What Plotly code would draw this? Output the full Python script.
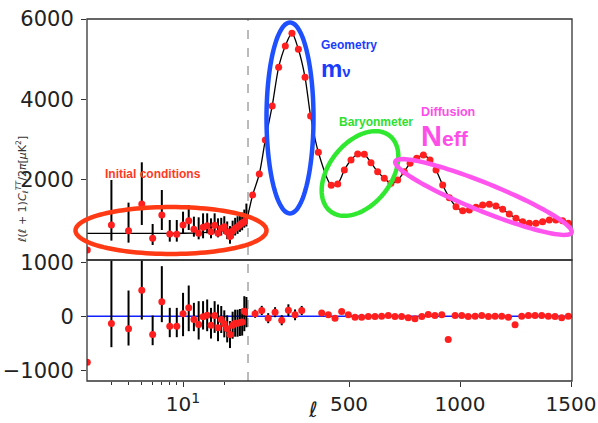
import numpy as np
import plotly.graph_objects as go

# ---------------------------------------------------------------- data
# Low-multipole band powers (one per multipole), D_ell in muK^2
ell_low = list(range(2, 30))
dl_low = [249, 872, 730, 1394, 540, 1120, 647, 639, 872, 979, 764, 664, 814, 855,
          706, 863, 664, 790, 830, 700, 585, 720, 790, 830, 880, 920, 955, 985]
dl_low_up = [0, 1120, 698, 1038, 356, 623, 349, 357, 331, 391, 315, 398, 348, 307,
             331, 299, 373, 260, 260, 260, 260, 260, 260, 260, 260, 260, 300, 420]
dl_low_dn = [0, 390, 298, 522, 166, 373, 190, 182, 208, 232, 183, 149, 274, 191,
             166, 199, 100, 180, 180, 180, 180, 180, 180, 180, 180, 180, 150, 150]

# Binned high-multipole band powers
ell_hi = [66, 96, 123, 154, 183, 213, 243, 272, 302, 327,
          362, 420, 449, 479, 509, 539, 569, 599, 629, 659,
          689, 719, 749, 775, 805, 835, 865, 892, 922, 952,
          982, 1012, 1042, 1072, 1102, 1132, 1162, 1192, 1222, 1252,
          1282, 1312, 1342, 1372, 1402, 1432, 1462, 1488]
dl_hi = [1619, 2141, 2988, 3835, 4798, 5329, 5645, 5246, 4549, 3586,
         2681, 1859, 1892, 2241, 2490, 2639, 2631, 2423, 2199, 2034,
         1909, 1992, 2199, 2407, 2531, 2614, 2490, 2241, 1867, 1551,
         1328, 1228, 1245, 1311, 1370, 1387, 1345, 1262, 1145, 1037,
         955, 913, 913, 955, 996, 996, 979, 913]

# Best-fit model curve
model_lo_ell = [2, 4, 6, 8, 10, 12, 14, 16, 18, 20, 22, 24, 26, 28, 29.8]
model_lo = [664, 664, 664, 664, 666, 670, 680, 695, 715, 740, 775, 825, 890, 985, 1120]
model_hi_ell = [45] + ell_hi
model_hi = [1120] + dl_hi

# Residuals (data - model), muK^2
res_low = [-852, -136, -235, 481, -340, 265, -185, -185, 43, 154, -62, -154, -12, 19,
           -167, 12, -216, -62, -142, -235, -340, -167, -130, -130, -117, -110, 93, 75]
res_low_up = [0, 1250, 710, 700, 352, 661, 339, 339, 389, 414, 309, 432, 290, 290,
              321, 266, 432, 250, 250, 250, 250, 250, 250, 250, 250, 250, 277, 280]
res_low_dn = [0, 438, 308, 543, 197, 376, 204, 204, 413, 432, 216, 278, 235, 297,
              247, 321, 247, 250, 250, 250, 250, 250, 250, 250, 250, 250, 371, 280]

ell_res_hi = [77, 107, 136, 167, 197, 227, 257, 287, 377, 407, 437, 467, 497,
              527, 557, 587, 617, 647, 677, 707, 737, 767, 797, 828, 857, 887,
              918, 947, 978, 1008, 1037, 1068, 1098, 1128, 1158, 1188, 1218, 1248,
              1278, 1308, 1338, 1368, 1398, 1428, 1458, 1488]
res_hi = [44, 106, -37, 74, -75, 110, 25, 105, 60, 28, -37, 87, 25,
          -19, -19, -6, -6, 0, 12, -6, -6, -31, -49, -6, 31, 12,
          25, -432, 12, 12, -6, 0, 12, -6, 0, 0, -19, -160,
          0, 12, 12, 12, 0, -6, -31, 0]
res_hi_err = [75, 85, 93, 93, 93, 110, 100, 85] + [0] * 38

top_ticks = [2000, 4000, 6000]
bottom_ticks = [-1000, 0, 1000]
lin_ticks = [500, 1000, 1500]

# ---------------------------------------------------------------- geometry
W, H = 598, 423
M_L, M_R, M_T, M_B = 87, 26, 19, 42
PW, PH = W - M_L - M_R, H - M_T - M_B


def fx(px):
    return (px - M_L) / PW


def fy(py):
    return (H - M_B - py) / PH


SPLIT_X = fx(248)   # log | linear boundary in ell
SPLIT_Y = fy(260)   # spectrum | residual boundary

LOG_RANGE = [0.299, 1.474]
LIN_RANGE = [45, 1504.5]


def ellipse_path(cx, cy, a, b, angle_deg, n=120):
    t = np.linspace(0, 2 * np.pi, n, endpoint=False)
    th = np.radians(angle_deg)
    x = cx + a * np.cos(t) * np.cos(th) - b * np.sin(t) * np.sin(th)
    y = cy - (a * np.cos(t) * np.sin(th) + b * np.sin(t) * np.cos(th))
    pts = [f"{fx(xi):.5f},{fy(yi):.5f}" for xi, yi in zip(x, y)]
    return "M" + " L".join(pts) + " Z"


RED = "#ff1f1f"
TICK_FONT = dict(family="DejaVu Sans", size=21, color="#222222")

fig = go.Figure()

line_style = dict(color="black", width=1.3, shape="spline", smoothing=0.8)
fig.add_trace(go.Scatter(x=model_lo_ell, y=model_lo, mode="lines", line=line_style,
                         xaxis="x", yaxis="y", hoverinfo="skip"))
fig.add_trace(go.Scatter(x=model_hi_ell, y=model_hi, mode="lines", line=line_style,
                         xaxis="x2", yaxis="y", hoverinfo="skip"))

marker = dict(color=RED, size=7)
fig.add_trace(go.Scatter(
    x=ell_low, y=dl_low, mode="markers", marker=marker, xaxis="x", yaxis="y",
    error_y=dict(type="data", symmetric=False, array=dl_low_up, arrayminus=dl_low_dn,
                 color="black", thickness=2, width=0)))
fig.add_trace(go.Scatter(x=ell_hi, y=dl_hi, mode="markers", marker=marker,
                         xaxis="x2", yaxis="y"))
fig.add_trace(go.Scatter(
    x=ell_low, y=res_low, mode="markers", marker=marker, xaxis="x3", yaxis="y2",
    error_y=dict(type="data", symmetric=False, array=res_low_up, arrayminus=res_low_dn,
                 color="black", thickness=2, width=0)))
fig.add_trace(go.Scatter(
    x=ell_res_hi, y=res_hi, mode="markers", marker=marker, xaxis="x4", yaxis="y2",
    error_y=dict(type="data", array=res_hi_err, color="black", thickness=2, width=0)))

base_axis = dict(showgrid=False, zeroline=False, showline=False, automargin=False,
                 tickfont=TICK_FONT, tickcolor="#333333", ticklen=5, tickwidth=1.2)

shapes = [
    dict(type="line", xref="paper", yref="y2", x0=0, x1=1, y0=0, y1=0,
         line=dict(color="#1020ff", width=1.5), layer="below"),
    dict(type="line", xref="paper", yref="paper", x0=SPLIT_X, x1=SPLIT_X, y0=0, y1=1,
         line=dict(color="#777777", width=1, dash="dash"), layer="below"),
    dict(type="rect", xref="paper", yref="paper", x0=0, x1=1, y0=SPLIT_Y, y1=1,
         line=dict(color="#333333", width=1.3)),
    dict(type="rect", xref="paper", yref="paper", x0=0, x1=1, y0=0, y1=SPLIT_Y,
         line=dict(color="#333333", width=1.3)),
]

# highlighted regions of the spectrum
for cx, cy, a, b, ang, col in [
    (171, 230.5, 95.5, 23.5, 0, "#ff3a14"),
    (290, 118, 23.5, 95.5, 0, "#1e50ff"),
    (360, 173.5, 48, 31, 52, "#30e830"),
    (483.5, 197, 95, 14, -22, "#ff55ee"),
]:
    shapes.append(dict(type="path", xref="paper", yref="paper",
                       path=ellipse_path(cx, cy, a, b, ang),
                       line=dict(color=col, width=4.5), layer="above"))

LABEL_FONT = "Liberation Sans"
annotations = [
    dict(x=fx(153), y=fy(174), text="<b>Initial conditions</b>",
         font=dict(family=LABEL_FONT, size=12, color="#ff3a1e")),
    dict(x=fx(348.5), y=fy(45), text="<b>Geometry</b>",
         font=dict(family=LABEL_FONT, size=12, color="#1a3cff")),
    dict(x=fx(319), y=fy(68), xanchor="left",
         text="<b>m<span style='font-size:15px'>ν</span></b>",
         font=dict(family=LABEL_FONT, size=24, color="#1a3cff")),
    dict(x=fx(376), y=fy(121.7), text="<b>Baryonmeter</b>",
         font=dict(family=LABEL_FONT, size=12, color="#2ee02e")),
    dict(x=fx(448), y=fy(111.7), text="<b>Diffusion</b>",
         font=dict(family=LABEL_FONT, size=12.5, color="#ff4de8")),
    dict(x=fx(419), y=fy(136), xanchor="left",
         text="<b>N<span style='font-size:21px'>eff</span></b>",
         font=dict(family=LABEL_FONT, size=29, color="#ff4de8")),
    dict(x=fx(313), y=fy(410), text="<i>ℓ</i>",
         font=dict(family="DejaVu Sans", size=21, color="#222222")),
    dict(x=fx(22), y=fy(190), textangle=-90,
         text="<i>ℓ</i>(<i>ℓ</i> + 1)<i>C</i><sub><i>ℓ</i></sub><sup><i>TT</i></sup>/2<i>π</i>[<i>μ</i>K<sup>2</sup>]",
         font=dict(family="DejaVu Sans", size=11, color="#333333")),
]
for ann in annotations:
    ann.setdefault("xanchor", "center")
    ann.update(xref="paper", yref="paper", yanchor="middle", showarrow=False)

fig.update_layout(
    width=W, height=H,
    margin=dict(l=M_L, r=M_R, t=M_T, b=M_B, autoexpand=False),
    paper_bgcolor="white", plot_bgcolor="white",
    showlegend=False,
    xaxis=dict(base_axis, type="log", domain=[0, SPLIT_X], range=LOG_RANGE,
               anchor="y", showticklabels=False, ticks=""),
    xaxis2=dict(base_axis, domain=[SPLIT_X, 1], range=LIN_RANGE,
                anchor="y", showticklabels=False, ticks=""),
    xaxis3=dict(base_axis, type="log", domain=[0, SPLIT_X], range=LOG_RANGE,
                anchor="y2", tickvals=[10], ticktext=["10<sup>1</sup>"], ticks="outside",
                tickfont=dict(TICK_FONT, size=20),
                minor=dict(ticks="outside", ticklen=3, tickcolor="#333333",
                           tickmode="array", tickvals=[3, 4, 5, 6, 7, 8, 9, 20])),
    xaxis4=dict(base_axis, domain=[SPLIT_X, 1], range=LIN_RANGE,
                anchor="y2", tickvals=lin_ticks, ticks="outside",
                tickfont=dict(TICK_FONT, size=20)),
    yaxis=dict(base_axis, domain=[SPLIT_Y, 1], range=[0, 6000], anchor="x",
               tickvals=top_ticks, ticks="outside", ticklabelstandoff=3),
    yaxis2=dict(base_axis, domain=[0, SPLIT_Y], range=[-1200, 1040], anchor="x3",
                tickvals=bottom_ticks, ticks="outside", ticklabelstandoff=3),
    yaxis3=dict(base_axis, overlaying="y", anchor="x2", side="right", range=[0, 6000],
                tickvals=[0] + top_ticks, ticks="outside", showticklabels=False),
    yaxis4=dict(base_axis, overlaying="y2", anchor="x4", side="right",
                range=[-1200, 1040], tickvals=bottom_ticks, ticks="outside",
                showticklabels=False),
    shapes=shapes,
    annotations=annotations,
)

fig.write_html("out.html")
